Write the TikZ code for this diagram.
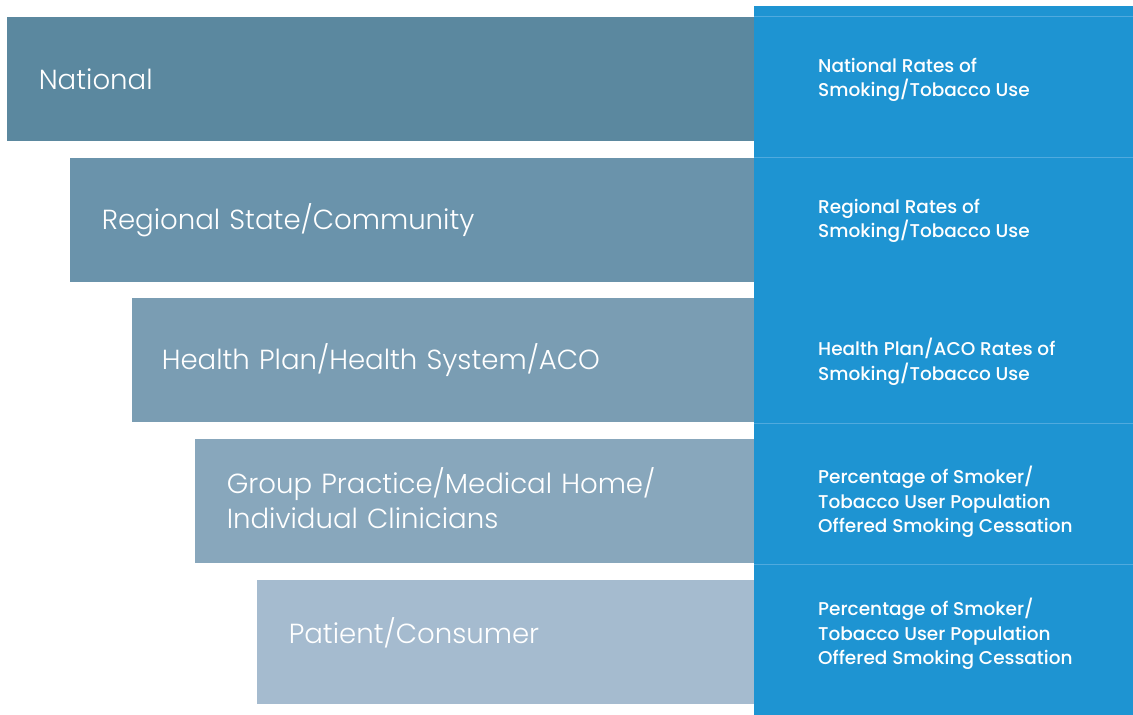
\documentclass[tikz,border=0pt]{standalone}
\usepackage{fontspec}
\setmainfont{Poppins Medium}
\newfontfamily\levelfont{Poppins Light}
\usepackage{tikz}
\usetikzlibrary{positioning}
\definecolor{national}{RGB}{91, 136, 159}
\definecolor{regional}{RGB}{106, 147, 171}
\definecolor{healthplan}{RGB}{122, 157, 179}
\definecolor{practice}{RGB}{136, 167, 188}
\definecolor{patient}{RGB}{165, 187, 207}
\definecolor{ratesblue}{RGB}{30, 148, 210}
\definecolor{ratesline}{RGB}{80, 170, 222}
\tikzset{
  level/.style={rectangle, anchor=north east, minimum height=124pt, inner xsep=32pt,
                inner ysep=0pt, text=white, align=left,
                font=\levelfont\fontsize{27.6}{35}\selectfont},
  rate/.style={anchor=west, inner sep=0pt, text=white, align=left,
               font=\fontsize{18.5}{24.5}\selectfont},
}

\begin{document}
\begin{tikzpicture}[x=1pt, y=-1pt]
            \useasboundingbox (0,0) rectangle (1133,715);
            % level bars
            \node[level, fill=national,   minimum width=747pt, text width=683pt] (national)   at (754, 17)  {National};
            \node[level, fill=regional,   minimum width=684pt, text width=620pt] (regional)   at (754, 158) {Regional State/Community};
            \node[level, fill=healthplan, minimum width=622pt, text width=562pt, inner xsep=30pt] (healthplan) at (754, 298) {Health Plan/Health System/ACO};
            \node[level, fill=practice,   minimum width=559pt, text width=495pt, text depth=42pt] (practice)   at (754, 439) {Group Practice/Medical Home/\\Individual Clinicians};
            \node[level, fill=patient,    minimum width=497pt, text width=433pt, text depth=24pt] (patient)    at (754, 580) {Patient/Consumer};
            % rates column
            \fill[ratesblue] (754, 6) rectangle (1133, 715);
            \foreach \y in {16, 157, 423, 564}
                \draw[ratesline, line width=1pt] (754, \y) -- (1133, \y);
            \node[rate] (nationalrate)   at (818, 80)  {National Rates of\\Smoking/Tobacco Use};
            \node[rate] (regionalrate)   at (818, 221) {Regional Rates of\\Smoking/Tobacco Use};
            \node[rate] (healthplanrate) at (818, 362) {Health Plan/ACO Rates of\\Smoking/Tobacco Use};
            \node[rate] (practicerate)   at (818, 502) {Percentage of Smoker/\\Tobacco User Population\\Offered Smoking Cessation};
            \node[rate] (patientrate)    at (818, 634) {Percentage of Smoker/\\Tobacco User Population\\Offered Smoking Cessation};
        \end{tikzpicture}
\end{document}
